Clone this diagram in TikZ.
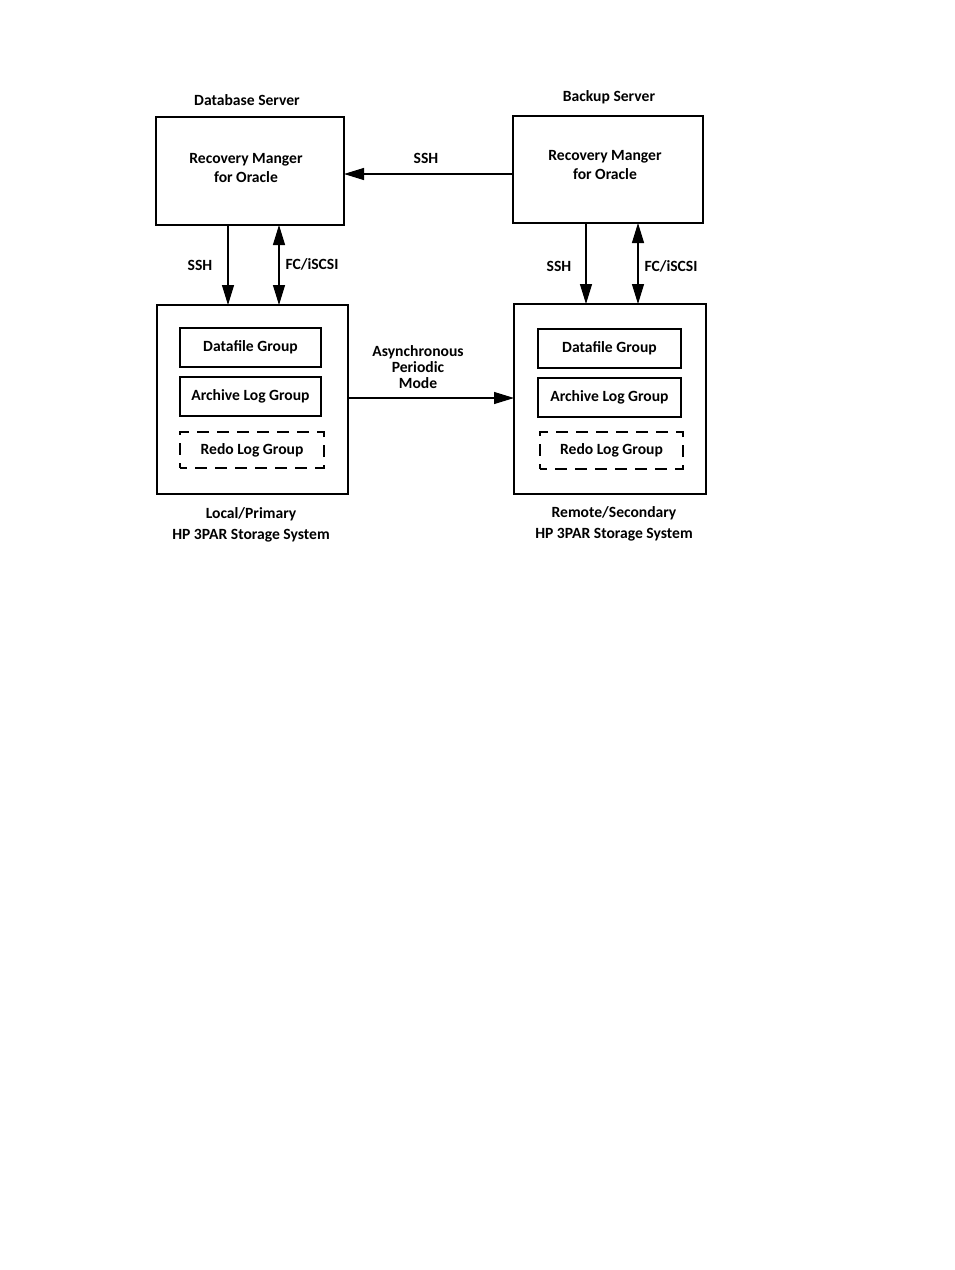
\documentclass[tikz,border=0pt]{standalone}
\usepackage{fontspec}
\setmainfont{Carlito}[BoldFont={Carlito Bold}]
\usetikzlibrary{arrows.meta}
\begin{document}
\begin{tikzpicture}[x=1pt,y=-1pt,
  box/.style={draw, line width=1.2pt, inner sep=0pt, outer sep=0pt},
  dbox/.style={draw, line width=1.2pt, inner sep=0pt, outer sep=0pt, dash pattern=on 12pt off 8pt, dash phase=5pt},
  txt/.style={font=\bfseries\fontsize{15.6}{17}\selectfont, inner sep=0pt, align=center},
  conn/.style={line width=1.2pt},
  tip/.style={-{Triangle[length=20pt,width=12pt]}},
  tips/.style={{Triangle[length=20pt,width=12pt]}-{Triangle[length=20pt,width=12pt]}}
]
\useasboundingbox (0,0) rectangle (954,1270);
\fill[white] (0,0) rectangle (954,1270);

% server boxes
\node[box, minimum width=188pt, minimum height=108pt] (db) at (250,171) {};
\node[box, minimum width=190pt, minimum height=107pt] (bk) at (608,169.5) {};
\node[txt] (dbl) at (247,100) {Database Server};
\node[txt] (bkl) at (609,97) {Backup Server};
\node[txt] (dbt) at (246,168) {Recovery Manger\\[2pt]for Oracle};
\node[txt] (bkt) at (605,165) {Recovery Manger\\[2pt]for Oracle};

% storage boxes
\node[box, minimum width=191pt, minimum height=189pt] (ls) at (252.5,399.5) {};
\node[box, minimum width=192pt, minimum height=190pt] (rs) at (610,399) {};

% inner groups left
\node[box, minimum width=141pt, minimum height=39pt, txt] (ldf) at (250.5,347.5) {Datafile Group};
\node[box, minimum width=141pt, minimum height=39pt, txt] (lal) at (250.5,396.5) {Archive Log Group};
\node[dbox, minimum width=144pt, minimum height=36pt, txt] (lrl) at (252,450) {Redo Log Group};
% inner groups right
\node[box, minimum width=143pt, minimum height=39pt, txt] (rdf) at (609.5,348.5) {Datafile Group};
\node[box, minimum width=143pt, minimum height=39pt, txt] (ral) at (609.5,397.5) {Archive Log Group};
\node[dbox, minimum width=143pt, minimum height=37pt, txt] (rrl) at (611.5,450.5) {Redo Log Group};

% storage labels
\node[txt] (lsl) at (251,525) {Local/Primary\\[4pt]HP 3PAR Storage System};
\node[txt] (rsl) at (614,524) {Remote/Secondary\\[4pt]HP 3PAR Storage System};

% SSH between servers
\draw[conn, tip] (bk.west |- 0,174) -- (db.east |- 0,174);
\node[txt] (sshtop) at (426,158) {SSH};

% left verticals
\draw[conn, tip] (db.south -| 228,0) -- (ls.north -| 228,0);
\draw[conn, tips] (db.south -| 279,0) -- (ls.north -| 279,0);
\node[txt] (lssh) at (200,265) {SSH};
\node[txt] (lfc) at (312,264) {FC/iSCSI};

% right verticals
\draw[conn, tip] (bk.south -| 586,0) -- (rs.north -| 586,0);
\draw[conn, tips] (bk.south -| 638,0) -- (rs.north -| 638,0);
\node[txt] (rssh) at (559,266) {SSH};
\node[txt] (rfc) at (671,266) {FC/iSCSI};

% async replication
\draw[conn, tip] (ls.east |- 0,398) -- (rs.west |- 0,398);
\node[txt] (async) at (418,367) {Asynchronous\\[-1pt]Periodic\\[-1pt]Mode};
\end{tikzpicture}
\end{document}
